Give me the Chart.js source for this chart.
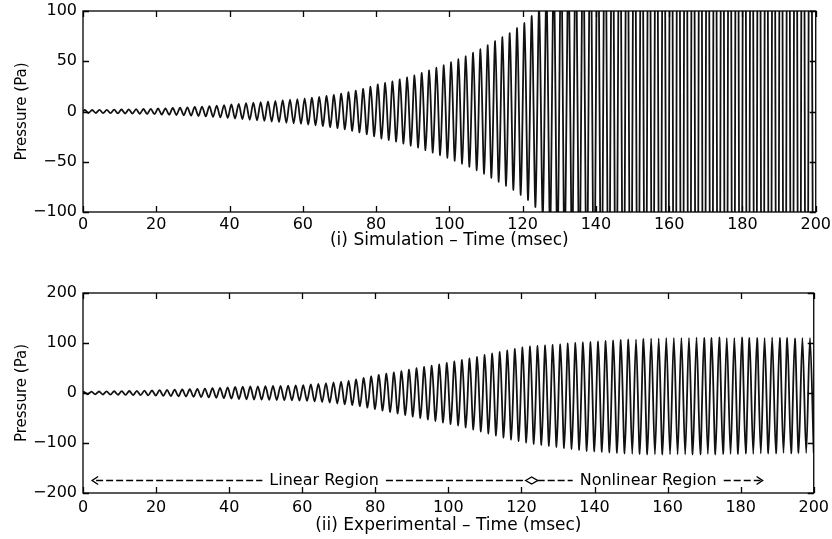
<!DOCTYPE html>
<html>
<head>
<meta charset="utf-8">
<script src="https://cdn.jsdelivr.net/npm/chart.js@4"></script>
<style>
  body { margin: 0; background: #fff; overflow: hidden; }
  .box { position: absolute; left: 0; width: 834px; }
</style>
</head>
<body>
<div class="box" style="top:-6px;height:268px"><canvas id="simChart"></canvas></div>
<div class="box" style="top:262px;height:277px"><canvas id="expChart"></canvas></div>
<script>
// x axis ticks (msec)
const timeTicks = [0, 20, 40, 60, 80, 100, 120, 140, 160, 180, 200];

// (i) simulation: one amplitude per cycle, cycle length ~2.0 ms
const simPeriod = 2.0;
const simStart = 0.5;
const simAmp = [
  1.5, 1.5, 1.6, 1.7, 1.8, 2.0, 2.1, 2.3, 2.5, 2.7,
  3.0, 3.2, 3.5, 3.8, 4.1, 4.5, 4.9, 5.4, 5.9, 6.4,
  7.0, 7.6, 8.2, 8.8, 9.4, 10.0, 10.6, 11.2, 11.8, 12.4,
  13.0, 13.8, 14.6, 15.5, 16.5, 17.8, 19.2, 20.8, 22.6, 24.6,
  27, 28.5, 30, 32, 34, 36, 38.5, 41, 43.5, 46,
  49, 52, 55, 58.5, 62, 66, 70, 74, 78, 83,
  88, 95, 104, 120, 140, 165, 190, 220, 250, 280,
  310, 340, 370, 400, 430, 460, 490, 520, 550, 580,
  600, 600, 600, 600, 600, 600, 600, 600, 600, 600,
  600, 600, 600, 600, 600, 600, 600, 600, 600, 600
];

// (ii) experimental: peaks and troughs per cycle, cycle length ~2.07 ms
const expPeriod = 2.07;
const expStart = 0.25;
const expPeaks = [
  2.5, 2.8, 3.0, 3.2, 3.5, 3.8, 4.0, 4.3, 4.7, 5.0,
  5.6, 6.0, 6.6, 7.0, 7.6, 8.2, 8.8, 9.6, 10.4, 11.2,
  12.0, 12.6, 13.0, 13.4, 13.6, 14.0, 14.4, 14.8, 15.2, 15.8,
  17, 18.2, 19.6, 21, 22.6, 24.5, 27, 30, 33, 36,
  38.5, 41, 43.5, 46.5, 49.5, 52, 54.5, 57, 60, 63,
  66, 69, 72, 76, 79, 82, 85, 88, 91, 93,
  94, 95, 96, 97, 99, 100, 101, 102, 103, 104,
  105, 106, 107, 107, 108, 109, 109, 110, 110, 110,
  110, 111, 110, 110, 111, 110, 110, 111, 110, 110,
  110, 111, 110, 110, 109, 110, 110
];
const expTroughs = [
  -2.5, -2.8, -3.0, -3.3, -3.5, -3.8, -4.1, -4.4, -4.7, -5.0,
  -5.5, -6.0, -6.5, -7.0, -7.6, -8.2, -8.8, -9.6, -10.4, -11.2,
  -12, -12.5, -13, -13.4, -13.6, -14, -14.4, -14.8, -15.2, -15.8,
  -16.8, -18, -19.4, -21, -22.5, -24.2, -26.5, -29, -32, -35,
  -38, -41, -44, -47, -50, -53, -56, -59, -62, -65,
  -69, -73, -77, -81, -85, -89, -93, -96, -99, -102,
  -104, -106, -108, -110, -112, -114, -116, -117, -118, -119,
  -120, -121, -122, -122, -123, -123, -123, -123, -123, -123,
  -123, -123, -122, -123, -122, -122, -122, -121, -122, -121,
  -121, -121, -120, -121, -120, -120, -120
];

// annotation in the lower panel (data units)
const regionY = -175;
const arrowFromT = 2.5;
const linearLabelT = 66;
const junctionT = 122.8;
const nonlinearLabelT = 154.7;
const arrowToT = 186;

const FONT = "'DejaVu Sans', sans-serif";
const tickLen = 6;

function simPoints() {
  let pts = [{x: 0, y: 0}];
  for (let k = 0; k < simAmp.length; k++) {
    let t = simStart + k * simPeriod;
    pts.push({x: t, y: simAmp[k]});
    pts.push({x: t + simPeriod / 2, y: -simAmp[k]});
  }
  return pts;
}

function expPoints() {
  let pts = [{x: 0, y: 0}];
  for (let k = 0; k < expPeaks.length; k++) {
    let t = expStart + k * expPeriod;
    pts.push({x: t, y: expPeaks[k]});
    pts.push({x: t + expPeriod / 2, y: expTroughs[k]});
  }
  return pts;
}

function minus(v) {
  return v < 0 ? '\u2212' + Math.abs(v) : '' + v;
}

// box + inward ticks on all four sides, like the original figure
const framePlugin = {
  id: 'frame',
  afterDatasetsDraw(chart) {
    const {ctx, chartArea: a, scales: {x, y}} = chart;
    ctx.save();
    ctx.strokeStyle = '#000';
    ctx.lineWidth = 1.3;
    ctx.strokeRect(a.left, a.top, a.right - a.left, a.bottom - a.top);
    ctx.beginPath();
    x.ticks.forEach(t => {
      const px = Math.round(x.getPixelForValue(t.value)) + 0.5;
      ctx.moveTo(px, a.bottom); ctx.lineTo(px, a.bottom - tickLen);
      ctx.moveTo(px, a.top); ctx.lineTo(px, a.top + tickLen);
    });
    y.ticks.forEach(t => {
      const py = Math.round(y.getPixelForValue(t.value)) + 0.5;
      ctx.moveTo(a.left, py); ctx.lineTo(a.left + tickLen, py);
      ctx.moveTo(a.right, py); ctx.lineTo(a.right - tickLen, py);
    });
    ctx.stroke();
    ctx.restore();
  }
};

const regionPlugin = {
  id: 'regions',
  afterDatasetsDraw(chart, args, opts) {
    if (!opts.show) return;
    const {ctx, scales: {x, y}} = chart;
    const py = y.getPixelForValue(regionY);
    const x0 = x.getPixelForValue(arrowFromT);
    const xl = x.getPixelForValue(linearLabelT);
    const xj = x.getPixelForValue(junctionT);
    const xn = x.getPixelForValue(nonlinearLabelT);
    const x1 = x.getPixelForValue(arrowToT);
    ctx.save();
    ctx.font = '16px ' + FONT;
    ctx.fillStyle = '#000';
    ctx.textAlign = 'center';
    ctx.textBaseline = 'middle';
    const wl = ctx.measureText('Linear Region').width;
    const wn = ctx.measureText('Nonlinear Region').width;
    ctx.fillText('Linear Region', xl, py);
    ctx.fillText('Nonlinear Region', xn, py);

    ctx.strokeStyle = '#000';
    ctx.lineWidth = 1.4;
    ctx.setLineDash([7, 3]);
    const dash = (a, b) => { ctx.beginPath(); ctx.moveTo(a, py); ctx.lineTo(b, py); ctx.stroke(); };
    dash(x0 + 4, xl - wl / 2 - 7);
    dash(xl + wl / 2 + 7, xj - 6);
    dash(xj + 6, xn - wn / 2 - 7);
    dash(xn + wn / 2 + 7, x1 - 2);
    ctx.setLineDash([]);
    ctx.beginPath();
    // arrow heads
    ctx.moveTo(x0 + 6, py - 4); ctx.lineTo(x0, py); ctx.lineTo(x0 + 6, py + 4);
    ctx.moveTo(x1 - 6, py - 4); ctx.lineTo(x1, py); ctx.lineTo(x1 - 6, py + 4);
    // junction marker
    ctx.moveTo(xj - 6, py); ctx.lineTo(xj, py - 3.5); ctx.lineTo(xj + 6, py);
    ctx.lineTo(xj, py + 3.5); ctx.closePath();
    ctx.stroke();
    ctx.restore();
  }
};

function makeOptions(yMin, yMax, yStep, xTitle, pad, xHeight, tickPad, titlePadBottom, showRegions) {
  return {
    responsive: true,
    maintainAspectRatio: false,
    animation: false,
    events: [],
    layout: {padding: pad},
    plugins: {
      legend: {display: false},
      tooltip: {enabled: false},
      regions: {show: showRegions}
    },
    scales: {
      x: {
        type: 'linear',
        min: 0,
        max: 200,
        afterBuildTicks: s => { s.ticks = timeTicks.map(v => ({value: v})); },
        afterFit: s => { s.height = xHeight; },
        grid: {display: false, drawTicks: false},
        border: {display: false},
        ticks: {
          padding: tickPad,
          maxRotation: 0,
          color: '#000',
          font: {family: FONT, size: 16},
          callback: v => minus(v)
        },
        title: {
          display: true,
          text: xTitle,
          color: '#000',
          font: {family: FONT, size: 17},
          padding: {top: 0, bottom: titlePadBottom}
        }
      },
      y: {
        min: yMin,
        max: yMax,
        afterFit: s => { s.width = 83; },
        grid: {display: false, drawTicks: false},
        border: {display: false},
        ticks: {
          stepSize: yStep,
          padding: 6,
          color: '#000',
          font: {family: FONT, size: 16},
          callback: v => minus(v)
        },
        title: {
          display: true,
          text: 'Pressure (Pa)',
          color: '#000',
          font: {family: FONT, size: 15},
          padding: {top: 13, bottom: 0}
        }
      }
    }
  };
}

Chart.register(framePlugin, regionPlugin);

new Chart(document.getElementById('simChart'), {
  type: 'line',
  data: {
    datasets: [{
      data: simPoints(),
      borderColor: '#111',
      borderWidth: 1.8,
      pointRadius: 0,
      tension: 0.3,
      clip: 0
    }]
  },
  options: makeOptions(-100, 100, 50, '(i) Simulation \u2013 Time (msec)',
    {top: 17, right: 16, bottom: 0, left: 0}, 50, 3, 11, false)
});

new Chart(document.getElementById('expChart'), {
  type: 'line',
  data: {
    datasets: [{
      data: expPoints(),
      borderColor: '#111',
      borderWidth: 1.8,
      pointRadius: 0,
      tension: 0.3,
      clip: 0
    }]
  },
  options: makeOptions(-200, 200, 100, '(ii) Experimental \u2013 Time (msec)',
    {top: 31, right: 16, bottom: 0, left: 0}, 46, 5, 3, true)
});
</script>
</body>
</html>
